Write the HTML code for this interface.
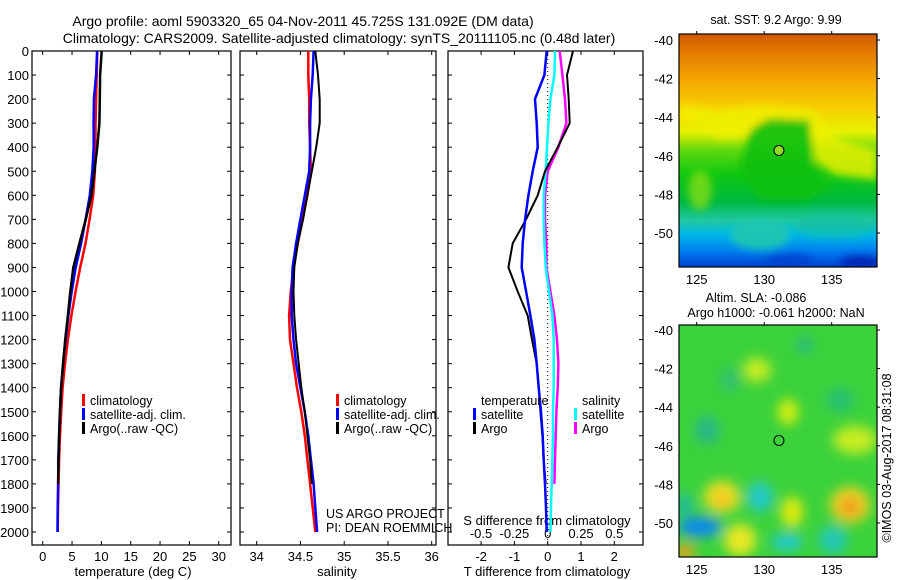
<!DOCTYPE html>
<html><head><meta charset="utf-8">
<style>
html,body{margin:0;padding:0;background:#fff;}
svg{display:block;font-family:"Liberation Sans",sans-serif;}
text{fill:#000;}
</style></head>
<body>
<svg id="chart" width="900" height="580" viewBox="0 0 900 580">
<defs>
<linearGradient id="sstgrad" x1="0" y1="0" x2="0" y2="1">
<stop offset="0" stop-color="#d05a00"/>
<stop offset="0.08" stop-color="#e47a00"/>
<stop offset="0.2" stop-color="#f4a800"/>
<stop offset="0.32" stop-color="#f8d000"/>
<stop offset="0.42" stop-color="#e6f000"/>
<stop offset="0.5" stop-color="#60d810"/>
<stop offset="0.6" stop-color="#10c810"/>
<stop offset="0.72" stop-color="#00b840"/>
<stop offset="0.8" stop-color="#20c8a0"/>
<stop offset="0.86" stop-color="#00b8e8"/>
<stop offset="0.93" stop-color="#0080f0"/>
<stop offset="1" stop-color="#0040d0"/>
</linearGradient>
<filter id="blur6"><feGaussianBlur stdDeviation="6"/></filter>
<filter id="blur4"><feGaussianBlur stdDeviation="4"/></filter>
<clipPath id="clip1"><rect x="679" y="34" width="198" height="233"/></clipPath>
<clipPath id="clip2"><rect x="679" y="325" width="198" height="232"/></clipPath>
</defs>
<g id="layer"></g>
</svg>
<script>
// ---- data ----
const pres = [0,100,200,300,400,500,600,700,800,900,1000,1100,1200,1300,1400,1500,1600,1700,1800,1900,2000];
const presArgo = [0,100,200,300,400,500,600,700,800,900,1000,1100,1200,1300,1400,1500,1600,1700,1800];
const tClim = [9.3,9.2,9.1,9.0,9.0,8.9,8.6,8.0,7.3,6.4,5.6,4.9,4.3,3.8,3.4,3.15,2.95,2.8,2.7,2.6,2.55];
const tSat = [9.27,9.1,8.72,8.67,8.7,8.45,8.02,7.32,6.55,5.62,4.95,4.38,3.9,3.47,3.13,2.95,2.8,2.68,2.62,2.55,2.52];
const tArgo = [10.06,9.78,9.73,9.66,9.3,8.82,8.3,7.35,6.25,5.22,4.7,4.3,3.83,3.47,3.13,2.93,2.79,2.68,2.64];
const sClim = [34.59,34.59,34.6,34.6,34.61,34.62,34.58,34.52,34.47,34.42,34.39,34.37,34.38,34.42,34.46,34.51,34.55,34.58,34.61,34.64,34.67];
const sSat = [34.65,34.64,34.62,34.61,34.61,34.6,34.55,34.5,34.45,34.41,34.4,34.4,34.42,34.45,34.5,34.55,34.59,34.62,34.65,34.67,34.69];
const sArgo = [34.67,34.7,34.72,34.72,34.68,34.63,34.58,34.53,34.47,34.43,34.42,34.43,34.45,34.48,34.51,34.55,34.58,34.61,34.63];
const dTSat = [-0.03,-0.1,-0.38,-0.33,-0.3,-0.45,-0.58,-0.68,-0.75,-0.78,-0.65,-0.52,-0.4,-0.33,-0.27,-0.2,-0.15,-0.12,-0.08,-0.05,-0.03];
const dTArgo = [0.76,0.58,0.63,0.66,0.3,-0.08,-0.3,-0.65,-1.05,-1.18,-0.9,-0.6,-0.47,-0.33,-0.27,-0.22,-0.16,-0.12,-0.06];
const dSSat = [0.055,0.05,0.02,0.005,-0.005,-0.015,-0.03,-0.03,-0.025,-0.015,0.01,0.035,0.045,0.045,0.045,0.04,0.04,0.035,0.03,0.025,0.02];
const dSArgo = [0.09,0.11,0.13,0.14,0.08,0.0,-0.02,-0.02,-0.01,-0.01,0.02,0.05,0.07,0.08,0.075,0.065,0.06,0.055,0.05];
const tTicks = [0,5,10,15,20,25,30];
const sTicks = [34,34.5,35,35.5,36];
const sTickLabels = ["34","34.5","35","35.5","36"];
const dTTicks = [-2,-1,0,1,2];
const dSTicks = [-0.5,-0.25,0,0.25,0.5];
const dSTickLabels = ["-0.5","-0.25","0","0.25","0.5"];
const pTicks = [0,100,200,300,400,500,600,700,800,900,1000,1100,1200,1300,1400,1500,1600,1700,1800,1900,2000];
const lonTicks = [125,130,135];
const latTicks = [-40,-42,-44,-46,-48,-50];
const argoLon = [131.092];
const argoLat = [-45.725];

// ---- axes ----
const NS='http://www.w3.org/2000/svg';
const L=document.getElementById('layer');
const Y0=51, YB=545;
const yP = p => Y0 + p*0.2405;
const xT = t => 42.7 + t*5.867;
const xS = s => 256.7 + (s-34)*87.5;
const xDT = d => 547.7 + d*33.3;
const xDS = d => 547.7 + d*133.3;
const xLon1 = lo => 696.7 + (lo-125)*13.5;
const yLat1 = la => 40 + (-40-la)*19.3;
const yLat2 = la => 330 + (-40-la)*19.3;

function el(tag, attrs, parent){const e=document.createElementNS(NS,tag);for(const k in attrs)e.setAttribute(k,attrs[k]);(parent||L).appendChild(e);return e;}
function txt(x,y,s,size,anchor,parent){const t=el('text',{x:x,y:y,'font-size':size,'text-anchor':anchor||'start'},parent);t.textContent=s;return t;}

let t;
t=txt(303,26,'Argo profile: aoml 5903320_65 04-Nov-2011 45.725S 131.092E (DM data)',14,'middle');


t=txt(339,43,'Climatology: CARS2009. Satellite-adjusted climatology: synTS_20111105.nc (0.48d later)',14,'middle');



const panels=[{x0:32,x1:231,name:'temperature-panel'},{x0:240,x1:436,name:'salinity-panel'},{x0:448,x1:643,name:'difference-panel'}];
panels.forEach(pn=>{
  const g=el('g',{});
  
  
  el('rect',{x:pn.x0,y:Y0,width:pn.x1-pn.x0,height:YB-Y0,fill:'none',stroke:'#000','stroke-width':1.2},g);
  pTicks.forEach(p=>{
    el('line',{x1:pn.x0,x2:pn.x0+4,y1:yP(p),y2:yP(p),stroke:'#000'},g);
    el('line',{x1:pn.x1-4,x2:pn.x1,y1:yP(p),y2:yP(p),stroke:'#000'},g);
  });
});
const yl=el('g',{});


pTicks.forEach(p=>txt(29,yP(p)+5,String(p),13,'end',yl));

function xticks(vals,labels,fx,ylab,parent){vals.forEach((v,i)=>{const x=fx(v);el('line',{x1:x,x2:x,y1:YB-4,y2:YB,stroke:'#000'},parent);el('line',{x1:x,x2:x,y1:Y0,y2:Y0+4,stroke:'#000'},parent);txt(x,ylab,labels[i],13,'middle',parent);});}
let g1=el('g',{});
xticks(tTicks,tTicks.map(String),xT,561,g1);
txt(133,576,'temperature (deg C)',13,'middle',g1);
let g2=el('g',{});
xticks(sTicks,sTickLabels,xS,561,g2);
txt(337,576,'salinity',13,'middle',g2);
let g3=el('g',{});
xticks(dTTicks,dTTicks.map(String),xDT,561,g3);
txt(547,576,'T difference from climatology',13,'middle',g3);
let g4=el('g',{});
dSTicks.forEach((v,i)=>txt(xDS(v),538,dSTickLabels[i],13,'middle',g4));
txt(547,525,'S difference from climatology',13,'middle',g4);
let z=el('line',{x1:xDT(0),x2:xDT(0),y1:Y0,y2:YB,stroke:'#000','stroke-dasharray':'1,3','stroke-width':1});



function line(xs,ps,fx,color,w,name){
  const pts=xs.map((v,i)=>fx(v).toFixed(1)+','+yP(ps[i]).toFixed(1)).join(' ');
  const e=el('polyline',{points:pts,fill:'none',stroke:color,'stroke-width':w,'stroke-linejoin':'round'});
  
  
}
line(tClim,pres,xT,'#ff0000',2.5,'temperature-climatology-line');
line(tSat,pres,xT,'#0000ff',2.5,'temperature-satellite-line');
line(tArgo,presArgo,xT,'#000000',2.5,'temperature-argo-line');
line(sClim,pres,xS,'#ff0000',2.5,'salinity-climatology-line');
line(sSat,pres,xS,'#0000ff',2.5,'salinity-satellite-line');
line(sArgo,presArgo,xS,'#000000',2,'salinity-argo-line');
line(dSArgo,presArgo,xDS,'#ff00ff',2.5,'salinity-diff-argo-line');
line(dSSat,pres,xDS,'#00ffff',2.5,'salinity-diff-satellite-line');
line(dTArgo,presArgo,xDT,'#000000',2,'temperature-diff-argo-line');
line(dTSat,pres,xDT,'#0000ff',2.5,'temperature-diff-satellite-line');

function legend(x,y,items,name){const g=el('g',{});
 items.forEach((it,i)=>{const yy=y+i*14;if(it.c)el('rect',{x:x,y:yy-10,width:3,height:12,fill:it.c},g);txt(x+8,yy+1,it.t,12.5,'start',g);});}
legend(82,404,[{c:'#f00',t:'climatology'},{c:'#00f',t:'satellite-adj. clim.'},{c:'#000',t:'Argo(..raw -QC)'}],'temperature-legend');
legend(336,404,[{c:'#f00',t:'climatology'},{c:'#00f',t:'satellite-adj. clim.'},{c:'#000',t:'Argo(..raw -QC)'}],'salinity-legend');
legend(473,404,[{t:'temperature'},{c:'#00f',t:'satellite'},{c:'#000',t:'Argo'}],'t-diff-legend');
legend(574,404,[{t:'salinity'},{c:'#0ff',t:'satellite'},{c:'#f0f',t:'Argo'}],'s-diff-legend');
let cr=el('g',{});
txt(326,518,'US ARGO PROJECT',12.5,'start',cr);txt(326,532,'PI: DEAN ROEMMICH',12.5,'start',cr);

// ---- maps ----
function mapFrame(yTop,yLatF,name){
  const g=el('g',{});
  el('rect',{x:679,y:yTop,width:198,height:yTop===34?233:232,fill:'none',stroke:'#000','stroke-width':1.2},g);
  const yb=yTop===34?267:557;
  lonTicks.forEach(lo=>{const x=xLon1(lo);el('line',{x1:x,x2:x,y1:yTop-3,y2:yTop,stroke:'#000'},g);txt(x,yb+17,String(lo),13,'middle',g);});
  latTicks.forEach(la=>{const y=yLatF(la);el('line',{x1:877,x2:880,y1:y,y2:y,stroke:'#000'},g);txt(673,y+5,String(la),13,'end',g);});
  return g;
}
const m1=el('g',{'clip-path':'url(#clip1)'});


el('rect',{x:679,y:34,width:198,height:233,fill:'url(#sstgrad)'},m1);
const b1=el('g',{filter:'url(#blur4)'},m1);
el('path',{d:'M679,120 L700,125 L720,140 L745,135 L760,120 L790,118 L812,125 L815,160 L835,175 L877,180 L877,150 L840,140 L812,110 L760,105 L720,110 L679,105 Z',fill:'#f0f000',opacity:0.8},b1);
el('path',{d:'M750,130 L770,118 L810,120 L812,165 L830,185 L810,200 L760,200 L740,170 Z',fill:'#10c010',opacity:0.9},b1);
el('ellipse',{cx:760,cy:235,rx:30,ry:15,fill:'#20c8b0',opacity:0.9},b1);
el('ellipse',{cx:835,cy:225,rx:40,ry:14,fill:'#10c0a0',opacity:0.6},b1);
el('ellipse',{cx:700,cy:190,rx:12,ry:20,fill:'#90e010',opacity:0.7},b1);
el('ellipse',{cx:860,cy:262,rx:20,ry:6,fill:'#0020b0',opacity:0.9},b1);
el('ellipse',{cx:790,cy:260,rx:25,ry:6,fill:'#0040c8',opacity:0.8},b1);
mapFrame(34,yLat1,'sst-map-axes');
let mt=txt(776,24,'sat. SST: 9.2 Argo: 9.99',12.5,'middle');



const m2=el('g',{'clip-path':'url(#clip2)'});


el('rect',{x:679,y:325,width:198,height:232,fill:'#3cd23c'},m2);
const b2=el('g',{filter:'url(#blur6)'},m2);
const blobs=[[757,370,14,12,'#c8ec20'],[788,412,10,13,'#d8ee10'],[855,440,22,14,'#c8ec20'],[722,497,18,16,'#f0e020'],[722,500,8,7,'#f0b820'],
[760,497,13,15,'#20c8c8'],[792,512,11,15,'#e6ec10'],[850,505,20,18,'#f0d020'],[850,507,10,8,'#f09020'],[700,527,22,10,'#1088f0'],
[740,540,16,16,'#e8e820'],[787,542,16,8,'#20c8d8'],[833,540,14,14,'#20c8b8'],[685,552,10,8,'#f0a020'],[707,430,12,14,'#28b888'],[685,505,8,12,'#20b8a0'],
[805,345,8,8,'#28b888'],[730,380,10,12,'#30c070'],[840,400,14,12,'#28c070']];
blobs.forEach(b=>el('ellipse',{cx:b[0],cy:b[1],rx:b[2],ry:b[3],fill:b[4]},b2));
mapFrame(325,yLat2,'sla-map-axes');
let mt2=txt(756,302,'Altim. SLA: -0.086',12.5,'middle');


let mt3=txt(776,317,'Argo h1000: -0.061 h2000: NaN',12.5,'middle');



argoLon.forEach((lo,i)=>{
  const c1=el('circle',{cx:xLon1(lo),cy:yLat1(argoLat[i]),r:5,fill:'#90e020',stroke:'#000','stroke-width':1});
  
  
  const c2=el('circle',{cx:xLon1(lo),cy:yLat2(argoLat[i]),r:5,fill:'none',stroke:'#000','stroke-width':1});
  
  
});

let im=el('text',{x:0,y:0,'font-size':12.5,'text-anchor':'middle',transform:'translate(891,458) rotate(-90)'});
im.textContent='©IMOS 03-Aug-2017 08:31:08';


</script>
</body></html>
